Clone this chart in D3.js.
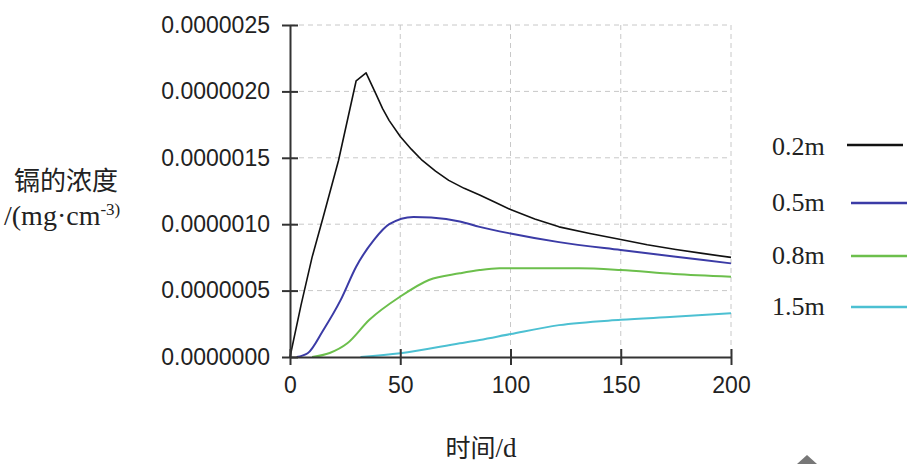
<!DOCTYPE html>
<html>
<head>
<meta charset="utf-8">
<script src="https://cdn.jsdelivr.net/npm/d3@7"></script>
<style>
  body { margin: 0; background: #fff; }
  svg { display: block; }
  .tick text { font-family: "Liberation Sans", Arial, sans-serif; font-size: 23px; fill: #222; }
  .grid line { stroke: #c8c8c8; stroke-dasharray: 5,4; }
</style>
</head>
<body>
<svg width="907" height="464"></svg>
<script>
// depth series: time (d) and cadmium concentration (mg/cm3)
var depths = ['0.2m', '0.5m', '0.8m', '1.5m'];
var colors = ['#111111', '#3b3ba6', '#6cbf4c', '#4cc0d2'];

var t02 = [0, 5, 10, 15, 22, 30, 34.5, 39, 42, 45, 50, 55, 60, 66, 72, 79, 86, 93, 100, 111, 122, 136, 150, 162, 175, 187, 200];
var c02 = [0, 3.9e-7, 7.5e-7, 1.05e-6, 1.48e-6, 2.08e-6, 2.14e-6, 1.98e-6, 1.87e-6, 1.78e-6, 1.66e-6, 1.565e-6, 1.48e-6, 1.4e-6, 1.33e-6, 1.27e-6, 1.22e-6, 1.165e-6, 1.11e-6, 1.04e-6, 9.8e-7, 9.3e-7, 8.85e-7, 8.45e-7, 8.1e-7, 7.8e-7, 7.5e-7];

var t05 = [3, 8, 15, 23, 30, 38, 45, 56, 64, 77, 86, 100, 122, 150, 175, 200];
var c05 = [0, 2.8e-8, 2.0e-7, 4.3e-7, 6.8e-7, 8.8e-7, 1.0e-6, 1.055e-6, 1.05e-6, 1.02e-6, 9.8e-7, 9.3e-7, 8.65e-7, 8.05e-7, 7.55e-7, 7.05e-7];

var t08 = [10, 18, 26, 36, 50, 63, 77, 86, 95, 131, 150, 174, 200];
var c08 = [0, 3.0e-8, 1.03e-7, 2.8e-7, 4.55e-7, 5.8e-7, 6.3e-7, 6.55e-7, 6.68e-7, 6.68e-7, 6.55e-7, 6.25e-7, 6.05e-7];

var t15 = [32, 50, 77, 86, 100, 122, 150, 174, 200];
var c15 = [0, 2.8e-8, 1.03e-7, 1.28e-7, 1.73e-7, 2.4e-7, 2.8e-7, 3.03e-7, 3.3e-7];

var xTicks = [0, 50, 100, 150, 200];
var yTicks = [0, 5e-7, 1e-6, 1.5e-6, 2e-6, 2.5e-6];

var series = [[t02, c02], [t05, c05], [t08, c08], [t15, c15]];

var svg = d3.select('svg');
var margin = {top: 25, left: 290, right: 176, bottom: 107};
var width = 907 - margin.left - margin.right;
var height = 464 - margin.top - margin.bottom;

var g = svg.append('g')
    .attr('transform', 'translate(' + margin.left + ',' + margin.top + ')');

var x = d3.scaleLinear().domain([0, 200]).range([0, width]);
var y = d3.scaleLinear().domain([0, 2.5e-6]).range([height, 0]);

// dashed grid
g.append('g').attr('class', 'grid')
    .selectAll('line.h').data(yTicks.slice(1)).enter().append('line')
    .attr('x1', 0).attr('x2', width)
    .attr('y1', function(d) { return y(d); }).attr('y2', function(d) { return y(d); });
g.append('g').attr('class', 'grid')
    .selectAll('line.v').data(xTicks.slice(1)).enter().append('line')
    .attr('y1', 0).attr('y2', height)
    .attr('x1', function(d) { return x(d); }).attr('x2', function(d) { return x(d); });

// curves: the 0.2m one has a sharp peak, the others are smooth
var sharp = d3.line()
    .x(function(d) { return x(d[0]); })
    .y(function(d) { return y(d[1]); });
var smooth = d3.line()
    .curve(d3.curveMonotoneX)
    .x(function(d) { return x(d[0]); })
    .y(function(d) { return y(d[1]); });

series.forEach(function(s, i) {
    var pts = d3.zip(s[0], s[1]);
    g.append('path')
        .datum(pts)
        .attr('fill', 'none')
        .attr('stroke', colors[i])
        .attr('stroke-width', i == 0 ? 1.6 : 2)
        .attr('stroke-linejoin', 'round')
        .attr('d', i == 0 ? sharp : smooth);
});

// axes
var xAxis = g.append('g')
    .attr('transform', 'translate(0,' + height + ')')
    .call(d3.axisBottom(x).tickValues(xTicks).tickSizeOuter(0).tickPadding(14));
var yAxis = g.append('g')
    .call(d3.axisLeft(y).tickValues(yTicks).tickFormat(d3.format('.7f')).tickSizeOuter(0).tickPadding(14));

xAxis.selectAll('.tick line').attr('y1', -8).attr('y2', 8);
yAxis.selectAll('.tick line').attr('x1', -8).attr('x2', 8);
svg.selectAll('.domain, .tick line').attr('stroke', '#333').attr('stroke-width', 2);

// legend
var legendY = [146, 202, 255, 306];
var legend = svg.append('g');
depths.forEach(function(d, i) {
    legend.append('text')
        .attr('x', 772).attr('y', legendY[i] + 9)
        .attr('font-family', '"Liberation Serif", "Times New Roman", serif')
        .attr('font-size', 26).attr('fill', '#222')
        .text(d);
    legend.append('line')
        .attr('x1', i == 0 ? 847 : 851).attr('x2', i == 0 ? 903 : 907)
        .attr('y1', legendY[i] + (i == 0 ? -1 : 1)).attr('y2', legendY[i] + (i == 0 ? -1 : 1))
        .attr('stroke', colors[i]).attr('stroke-width', 2.5);
});

// axis titles
svg.append('text')
    .attr('x', 66).attr('y', 190)
    .attr('text-anchor', 'middle')
    .attr('font-family', '"Noto Sans CJK SC", sans-serif')
    .attr('font-size', 26).attr('fill', '#222')
    .text('镉的浓度');
var unit = svg.append('text')
    .attr('x', 4).attr('y', 225)
    .attr('font-family', '"Liberation Serif", "Times New Roman", serif')
    .attr('font-size', 28).attr('fill', '#222');
unit.append('tspan').text('/(mg·cm');
unit.append('tspan').attr('font-size', 17).attr('dy', -10).text('-3)');

var xt = svg.append('text')
    .attr('x', 481).attr('y', 457)
    .attr('text-anchor', 'middle')
    .attr('fill', '#222');
xt.append('tspan').attr('font-family', '"Noto Sans CJK SC", sans-serif').attr('font-size', 25).text('时间');
xt.append('tspan').attr('font-family', '"Liberation Serif", serif').attr('font-size', 27).text('/d');

// corner mark
svg.append('path')
    .attr('d', 'M807,455 L817,464 L797,464 Z')
    .attr('fill', '#777');
</script>
</body>
</html>
